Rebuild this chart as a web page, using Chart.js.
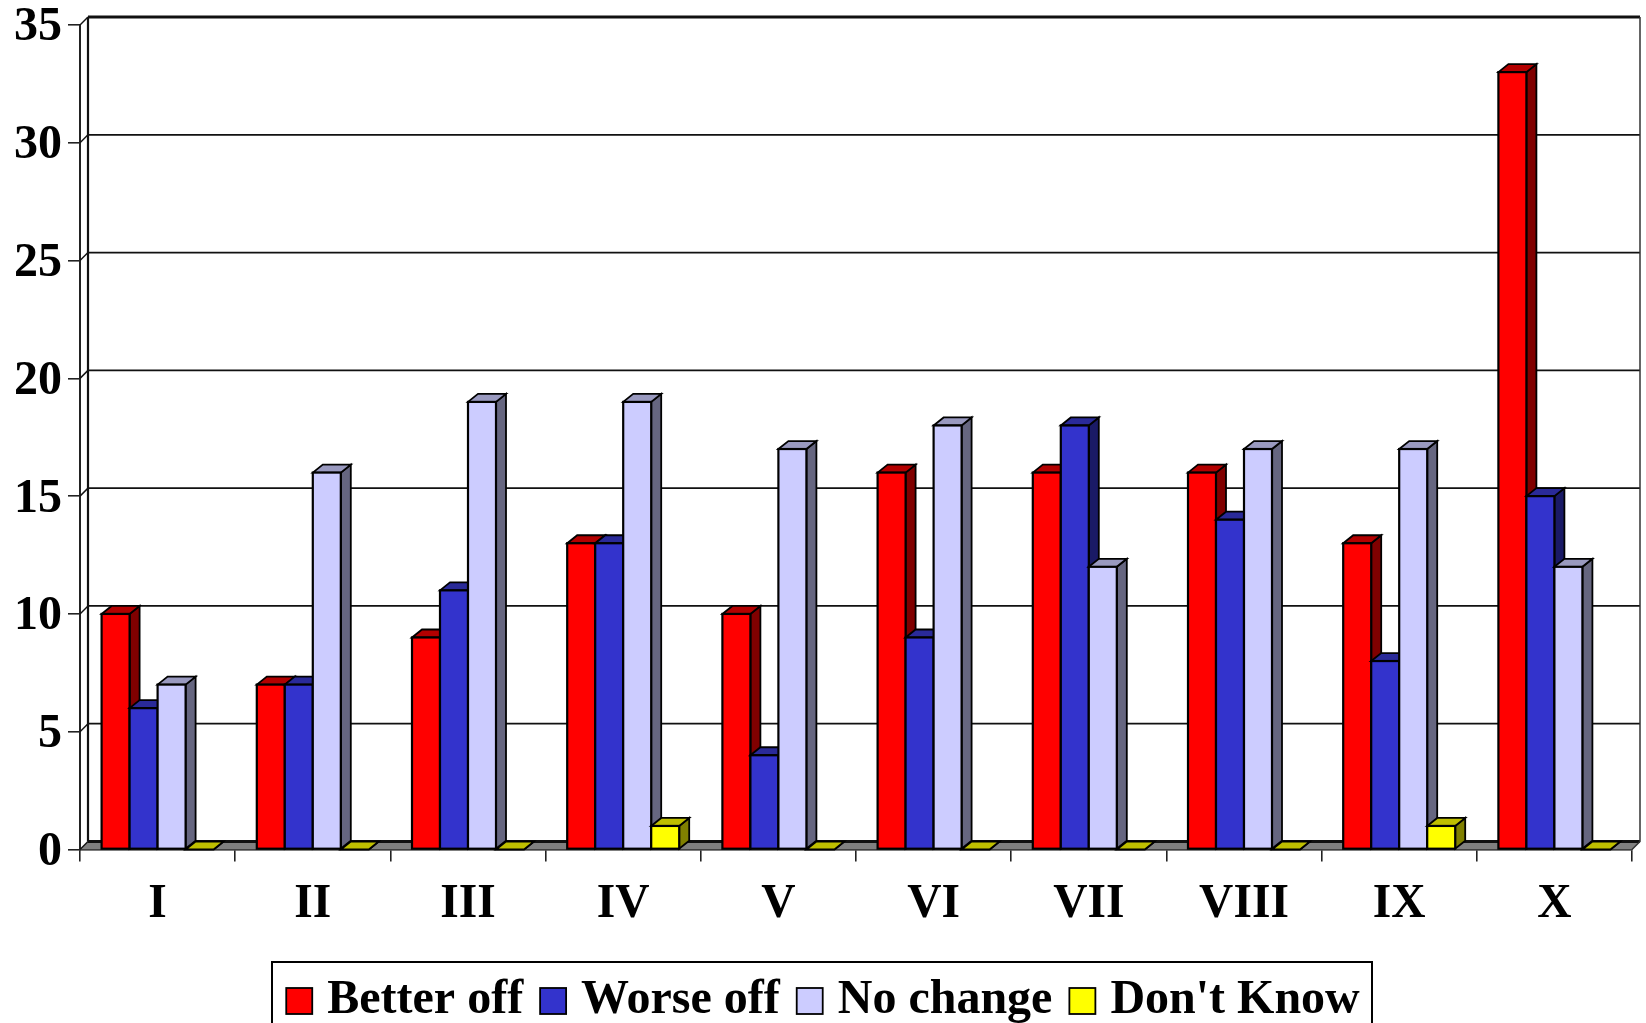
<!DOCTYPE html>
<html>
<head>
<meta charset="utf-8">
<style>html,body{margin:0;padding:0;background:#fff;overflow:hidden}canvas{display:block}</style>
<script src="https://cdn.jsdelivr.net/npm/chart.js@4/dist/chart.umd.min.js"></script>
</head>
<body>
<canvas id="c" width="1646" height="1023"></canvas>
<script>
const categories = ['I','II','III','IV','V','VI','VII','VIII','IX','X'];
const betterOff = [10,7,9,13,10,16,16,16,13,33];
const worseOff  = [6,7,11,13,4,9,18,14,8,15];
const noChange  = [7,16,19,19,17,18,12,17,17,12];
const dontKnow  = [0,0,0,1,0,0,0,0,1,0];
const yTicks = [0,5,10,15,20,25,30,35];

const FONT = '"Liberation Serif","Times New Roman",serif';
const shades = [
  {front:'#FF0000', side:'#800000', top:'#B30000'},
  {front:'#3333CC', side:'#1A1A66', top:'#2A2A99'},
  {front:'#CCCCFF', side:'#666680', top:'#9999BF'},
  {front:'#FFFF00', side:'#808000', top:'#BFBF00'}
];
const DX = 10, DY = 8, WALL = 8;

function poly(ctx, pts, fill, lw, stroke){
  ctx.beginPath();
  pts.forEach((p,i)=> i ? ctx.lineTo(p[0],p[1]) : ctx.moveTo(p[0],p[1]));
  ctx.closePath();
  if(fill){ctx.fillStyle=fill;ctx.fill();}
  if(lw){ctx.lineWidth=lw;ctx.strokeStyle=stroke||'#000';ctx.lineJoin='miter';ctx.stroke();}
}

const chart3d = {
  id:'chart3d',
  beforeDatasetsDraw(chart){
    const {ctx, chartArea:a, scales:{y}} = chart;
    ctx.save();
    poly(ctx, [[a.left,a.bottom],[a.left+WALL,a.bottom-WALL],[a.right+WALL,a.bottom-WALL],[a.right,a.bottom]], '#808080');
    ctx.strokeStyle='#111';
    y.ticks.forEach(t=>{
      const py=y.getPixelForValue(t.value);
      const edge = t.value===y.max || t.value===y.min;
      ctx.lineWidth = edge ? 3 : 1.8;
      ctx.beginPath();ctx.moveTo(a.left+WALL,py-WALL);ctx.lineTo(a.right+WALL,py-WALL);ctx.stroke();
      ctx.lineWidth=1.5;
      ctx.beginPath();ctx.moveTo(a.left,py);ctx.lineTo(a.left+WALL,py-WALL);ctx.stroke();
    });
    ctx.lineWidth=2.2;
    ctx.beginPath();ctx.moveTo(a.left+WALL,a.top-WALL);ctx.lineTo(a.left+WALL,a.bottom-WALL);ctx.stroke();
    ctx.lineWidth=1.5;
    ctx.strokeStyle='#333';
    ctx.beginPath();ctx.moveTo(a.right+WALL,a.top-WALL);ctx.lineTo(a.right+WALL,a.bottom-WALL);ctx.lineTo(a.right,a.bottom);ctx.stroke();
    ctx.restore();
  },
  // Painted below in series order, so each later bar covers the earlier bar's side face.
  beforeDatasetDraw(){ return false; },
  afterDatasetsDraw(chart){
    const {ctx} = chart;
    chart.data.datasets.forEach((d,i)=>{
      const s = shades[i];
      chart.getDatasetMeta(i).data.forEach(bar=>{
        ctx.save();
        const p = bar.getProps(['x','y','base','width'],true);
        const l=p.x-p.width/2, r=p.x+p.width/2, t=p.y, b=p.base;
        poly(ctx,[[r,t],[r+DX,t-DY],[r+DX,b-DY],[r,b]],s.side,1.8);
        poly(ctx,[[l,t],[l+DX,t-DY],[r+DX,t-DY],[r,t]],s.top,1.8);
        bar.draw(ctx, chart.chartArea);
        if(b-t>0){
          ctx.lineWidth=2.2;ctx.strokeStyle='#000';ctx.strokeRect(l,t,r-l,b-t);
        }
        ctx.restore();
      });
    });
  },
  afterDraw(chart){
    const {ctx, legend} = chart;
    ctx.save();
    ctx.strokeStyle='#000';ctx.lineWidth=2;
    ctx.strokeRect(272,962,1100,80);
    legend.legendHitBoxes.forEach((h,i)=>{
      const cy=h.top+h.height/2;
      ctx.fillStyle=shades[i].front;
      ctx.fillRect(h.left,cy-13,26,26);
      ctx.lineWidth=1.8;
      ctx.strokeRect(h.left,cy-13,26,26);
    });
    ctx.restore();
  }
};

const makeSet = (label,data,i)=>({
  label, data,
  backgroundColor:shades[i].front,
  borderWidth:0,
  barPercentage:1,
  categoryPercentage:0.7217
});

new Chart(document.getElementById('c'),{
  type:'bar',
  data:{
    labels:categories,
    datasets:[
      makeSet('Better off',betterOff,0),
      makeSet('Worse off',worseOff,1),
      makeSet('No change',noChange,2),
      makeSet("Don't Know",dontKnow,3)
    ]
  },
  plugins:[chart3d],
  options:{
    responsive:false,
    animation:false,
    devicePixelRatio:1,
    layout:{padding:{top:25,left:14,right:14,bottom:-12}},
    plugins:{
      tooltip:{enabled:false},
      legend:{
        display:true,
        position:'bottom',
        align:'center',
        labels:{
          boxWidth:17,
          boxHeight:26,
          color:'#000',
          padding:17,
          generateLabels(chart){
            return chart.data.datasets.map((d,i)=>({
              text:d.label,datasetIndex:i,fillStyle:'rgba(0,0,0,0)',strokeStyle:'rgba(0,0,0,0)',lineWidth:0,fontColor:'#000'
            }));
          },
          font:{family:FONT,size:48,weight:'bold',lineHeight:1}
        }
      }
    },
    scales:{
      x:{
        offset:true,
        afterFit(s){s.height=110.5;},
        grid:{offset:true,drawOnChartArea:false,drawTicks:true,tickLength:12,color:'#222',lineWidth:1.6},
        border:{display:true,color:'#000',width:2.5},
        ticks:{color:'#000',padding:19,maxRotation:0,autoSkip:false,font:{family:FONT,size:47.5,weight:'bold',lineHeight:1}}
      },
      y:{
        min:0,max:35,
        afterFit(s){s.width=66;s.paddingTop=0;s.paddingBottom=0;},
        afterBuildTicks(s){s.ticks=yTicks.map(v=>({value:v}));},
        grid:{drawOnChartArea:false,drawTicks:true,tickLength:12,color:'#222',lineWidth:1.6},
        border:{display:true,color:'#222',width:2},
        ticks:{color:'#000',padding:6,labelOffset:3,font:{family:FONT,size:48,weight:'bold',lineHeight:1}}
      }
    }
  }
});
</script>
</body>
</html>
